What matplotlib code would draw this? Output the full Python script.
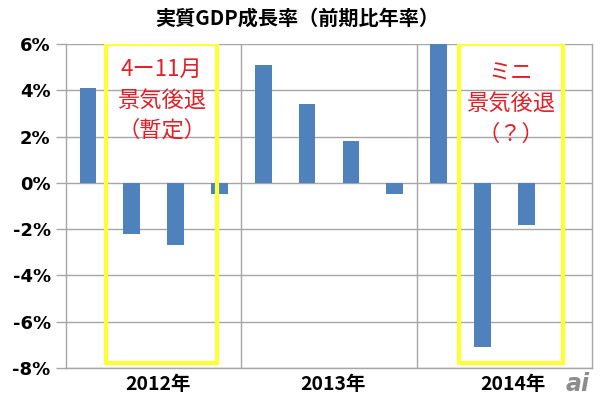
import matplotlib
matplotlib.use("Agg")
import matplotlib.pyplot as plt
from matplotlib.patches import Rectangle

plt.rcParams['font.family'] = ['Noto Sans CJK JP', 'DejaVu Sans']

title = "実質GDP成長率（前期比年率）"
quarters = ["2012Q1", "2012Q2", "2012Q3", "2012Q4",
            "2013Q1", "2013Q2", "2013Q3", "2013Q4",
            "2014Q1", "2014Q2", "2014Q3", "2014Q4"]
growth = [4.1, -2.2, -2.7, -0.5, 5.1, 3.4, 1.8, -0.5, 6.0, -7.1, -1.8, None]
years = ["2012年", "2013年", "2014年"]
year_label_pos = [1.6, 5.6, 9.7]
yticks = [-8, -6, -4, -2, 0, 2, 4, 6]
note1 = "4ー11月\n景気後退\n（暫定）"
note2 = "ミニ\n景気後退\n（？）"

fig = plt.figure(figsize=(6, 3.96), dpi=100)
ax = fig.add_axes([0.11, 0.0707, 0.8767, 0.8182])

gray = "#A6A6A6"
xs = [i for i, v in enumerate(growth) if v is not None]
vals = [v for v in growth if v is not None]
ax.bar(xs, vals, width=0.38, color="#4F81BD", zorder=3)

ax.set_xlim(-0.5, 11.5)
ax.set_ylim(-8, 6)
ax.set_yticks(yticks)
ax.set_yticklabels([f"{t}%" for t in yticks], fontsize=13, fontweight="bold",
                   family=['DejaVu Sans'])
ax.yaxis.grid(True, color=gray, linewidth=1, zorder=0)
for xv in [3.5, 7.5]:
    ax.axvline(xv, color=gray, linewidth=1, zorder=0)
ax.set_xticks([])
for x, lab in zip(year_label_pos, years):
    ax.text(x, -8.3, lab, ha="center", va="top", fontsize=14, fontweight="bold")

ax.spines["top"].set_visible(False)
for side in ["left", "bottom", "right"]:
    ax.spines[side].set_color(gray)
    ax.spines[side].set_linewidth(1)
ax.tick_params(axis="y", length=7, color=gray, width=1, pad=4)

# yellow boxes
ax.add_patch(Rectangle((0.42, -7.8), 2.53, 13.78, fill=False, edgecolor="#FFFF33",
                       linewidth=3, zorder=4))
ax.add_patch(Rectangle((8.47, -7.8), 2.37, 13.8, fill=False, edgecolor="#FFFF33",
                       linewidth=3, zorder=4))
ax.text(1.68, 3.58, note1, ha="center", va="center", fontsize=16, color="#E41E26",
        linespacing=1.42, zorder=5)
ax.text(9.65, 3.42, note2, ha="center", va="center", fontsize=16, color="#E41E26",
        linespacing=1.42, zorder=5)

fig.text(0.495, 0.955, title, ha="center", va="center", fontsize=14.5, fontweight="bold")
fig.text(0.962, 0.03, "ai", ha="center", va="center", fontsize=17, color="#8C8C8C",
         style="italic", fontweight="bold", family=["DejaVu Sans"])

fig.savefig("out.png", dpi=100)
